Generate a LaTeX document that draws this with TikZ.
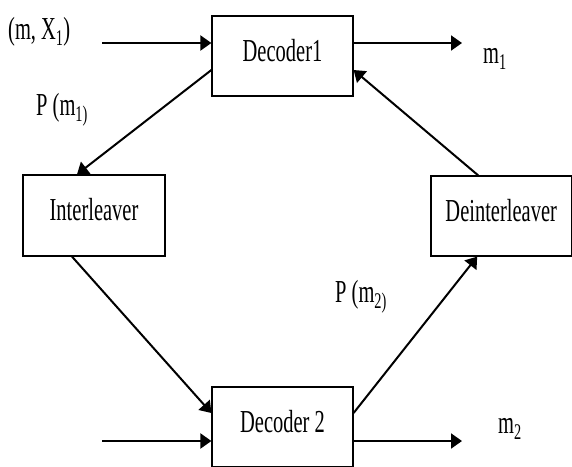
\documentclass[tikz,border=0pt]{standalone}
\usepackage{fontspec}
\usepackage{graphicx}
\setmainfont{Liberation Serif}
\usetikzlibrary{arrows.meta}
\newcommand{\cond}[1]{\scalebox{0.64}[1]{#1}}
\begin{document}
\begin{tikzpicture}[x=1pt,y=-1pt,
  box/.style={draw, line width=1.2pt, minimum width=141pt, minimum height=80pt, inner sep=0pt, text depth=12pt, font=\fontsize{32}{36}\selectfont},
  arr/.style={line width=2pt, -{Triangle[length=11pt,width=15pt]}},
  lbl/.style={inner sep=0pt, anchor=base west, font=\fontsize{32}{36}\selectfont}]
\useasboundingbox (0,0) rectangle (572,466);
\clip (0,0) rectangle (572,466);
\fill[white] (0,0) rectangle (572,466);

\node[box] (d1) at (282.5,56) {\cond{Decoder1}};
\node[box, minimum width=142pt, minimum height=81pt] (il) at (94,215.5) {\cond{Interleaver}\hspace{24pt}};
\node[box, minimum width=140.5pt] (dil) at (501.2,216) {\cond{Deinterleaver}};
\node[box] (d2) at (282.5,427) {\cond{Decoder 2}};

\coordinate (in1) at (102,43);
\coordinate (out1) at (462,43);
\coordinate (in2) at (102,441);
\coordinate (out2) at (462,441);

\draw[arr] (in1) -- (in1 -| d1.west);
\draw[arr] (d1.east |- out1) -- (out1);
\draw[arr] (in2) -- (in2 -| d2.west);
\draw[arr] (d2.east |- out2) -- (out2);

\draw[arr] ([yshift=-14pt]d1.west) -- ([xshift=-17pt]il.north);
\draw[arr] ([xshift=-22pt]il.south) -- ([yshift=14pt]d2.west);
\draw[arr] ([yshift=14pt]d2.east) -- ([xshift=-24pt]dil.south);
\draw[arr] ([xshift=-23pt]dil.north) -- ([yshift=-14pt]d1.east);

\node[lbl] (lx) at (8,39) {\cond{(m, X\textsubscript{1})}};
\node[lbl] (lp1) at (36,115) {\cond{P (m\textsubscript{1)}}};
\node[lbl] (lm1) at (483,63) {\cond{m\textsubscript{1}}};
\node[lbl] (lp2) at (335,302) {\cond{P (m\textsubscript{2)}}};
\node[lbl] (lm2) at (498,433) {\cond{m\textsubscript{2}}};
\end{tikzpicture}
\end{document}
